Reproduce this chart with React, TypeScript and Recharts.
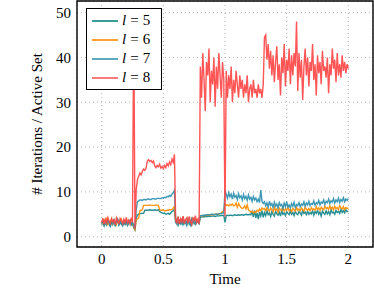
import React from "react";
import { LineChart, Line, XAxis, YAxis, CartesianGrid, ReferenceArea, Legend, Label } from "recharts";

// Sampling interval of the time axis (s): 201 samples from 0 to 2
const T_START = 0;
const T_STEP = 0.01;

const SERIES_NAMES = ["5", "6", "7", "8"];
const X_TICKS = [0, 0.5, 1, 1.5, 2];
const Y_TICKS = [0, 10, 20, 30, 40, 50];

const L5 = [
  2.7, 3.3, 2.4, 3.1, 2.6, 3.5, 2.8, 2.3, 3.2, 2.7, 3.4, 2.5, 3.0, 3.6, 2.6, 3.1, 2.8, 2.4, 3.3, 2.7, 3.2, 2.5, 3.0, 3.4, 2.6, 2.9,
  2.0, 1.5, 4.2, 4.8,
  5.1, 5.1, 5.2, 5.2, 5.2,
  5.9, 5.9, 5.9, 5.9, 6.0, 5.9, 5.9, 5.9, 6.0, 5.9, 5.9, 6.0,
  5.6, 5.4, 5.3, 5.2, 5.3, 5.0, 5.1, 5.2, 5.0,
  5.3, 5.6, 5.8, 6.1,
  3.0, 3.8, 2.6, 3.5, 2.9, 4.0, 2.7, 3.4, 3.1, 2.5, 3.7, 2.8, 3.3, 2.6, 3.9, 3.0, 2.7, 3.6, 3.2, 2.9,
  4.4, 4.4, 4.5, 4.4, 4.5, 4.5, 4.5, 4.6, 4.5, 4.6, 4.6, 4.6, 4.5, 4.6, 4.7, 4.6, 4.7, 4.7, 4.7, 4.8,
  3.2,
  4.7, 4.8, 4.7, 4.8, 4.8, 4.7, 4.8, 4.9, 4.8, 4.8, 4.9, 4.8, 4.9, 4.9, 4.8, 4.9, 5.0, 4.9, 4.9, 5.0, 4.9,
  5.6, 4.4, 5.9, 4.2, 5.3, 3.9, 5.5, 4.6, 5.8, 4.3,
  5.4, 4.7, 5.8, 4.9, 5.3, 4.5, 5.6, 5.0, 4.6, 5.7,
  5.1, 4.8, 5.5, 4.6, 5.9, 5.0, 5.3, 4.7, 5.6, 5.2,
  4.9, 5.8, 5.0, 5.4, 4.7, 5.7, 5.1, 4.9, 5.6, 5.3,
  4.8, 5.9, 5.2, 5.5, 4.9, 5.7, 5.0, 5.4, 5.1, 5.8,
  4.8, 5.6, 5.2, 5.9, 5.0, 5.5, 4.6, 5.7, 5.3, 5.0,
  5.8, 5.1, 5.6, 4.9, 6.0, 5.3, 5.5, 5.0, 5.9, 5.4,
  5.7, 5.2, 6.1, 5.4, 5.8, 5.3, 6.0, 5.6, 5.7,
];

const L6 = [
  3.4, 2.9, 3.7, 3.1, 3.9, 2.8, 3.5, 3.2, 4.0, 2.9, 3.6, 3.3, 2.7, 3.8, 3.0, 3.5, 3.9, 2.8, 3.4, 3.1, 3.7, 2.9, 3.6, 3.2, 3.9, 3.0,
  2.2, 1.6, 3.8, 4.0, 4.1, 5.8, 5.9, 6.0, 7.0,
  7.0, 7.0, 7.0, 7.0, 7.1, 7.0, 7.0, 7.0, 7.0, 7.1, 7.0, 7.0,
  6.0, 5.9, 5.9, 6.0, 5.8, 5.8, 5.9, 5.9, 6.0, 6.0,
  6.1, 6.4, 6.7,
  3.7, 3.0, 4.2, 3.3, 3.9, 2.9, 4.4, 3.2, 3.6, 3.0, 4.1, 3.4, 2.8, 4.0, 3.3, 4.3, 3.1, 3.8, 3.5, 3.2,
  4.6, 4.6, 4.7, 4.7, 4.7, 4.8, 4.8, 4.8, 4.9, 4.9, 4.9, 4.9, 5.0, 5.0, 5.0, 5.1, 5.1, 5.3, 5.6, 5.8,
  7.4, 7.0, 7.1, 6.9, 7.2, 7.0, 7.3, 6.9, 7.0, 7.5,
  6.6, 7.4, 6.9, 6.5, 6.3, 6.4, 6.9, 6.2, 7.1, 6.0,
  5.8, 5.5, 5.7, 5.3, 5.6, 5.4, 5.9, 5.6, 6.2, 5.8,
  6.4, 6.1,
  6.3, 5.8, 6.5, 6.0, 5.7, 6.4, 6.1, 5.6, 6.6, 5.9,
  6.2, 5.5, 6.4, 6.0, 5.8, 6.5, 5.7, 6.2, 5.9, 6.6,
  5.8, 6.1, 5.6, 6.3, 6.0, 5.7, 6.5, 5.9, 6.2, 5.8,
  6.4, 6.0, 5.7, 6.6, 6.1, 5.9, 6.3, 5.8, 6.5, 6.0,
  6.2, 5.9, 6.7, 6.1, 6.4, 5.9, 6.6, 6.2, 6.0, 6.8,
  6.3, 6.5, 6.1, 6.9, 6.2, 6.6, 6.0, 6.8, 6.3, 6.5,
  6.1, 6.9, 6.4, 6.2, 6.7, 6.0, 6.5, 6.3, 6.4,
];

const L7 = [
  3.0, 3.6, 2.6, 3.4, 2.9, 3.8, 3.1, 2.5, 3.5, 3.0, 3.7, 2.7, 3.3, 3.9, 2.8, 3.4, 3.1, 2.6, 3.6, 3.0, 3.5, 2.8, 3.3, 3.7, 2.9, 3.2,
  2.5, 1.8, 6.0, 7.8,
  8.0, 8.2, 8.2, 8.1, 8.3, 8.3, 8.2, 8.4, 8.4, 8.3, 8.3, 8.5, 8.5, 8.4, 8.4, 8.5, 8.6, 8.5,
  8.5, 8.7, 8.6, 8.8, 8.7, 9.0, 8.9, 9.2, 9.0, 9.5, 9.8, 10.3,
  3.5, 2.8, 4.1, 3.2, 3.8, 2.7, 4.3, 3.0, 3.6, 2.9, 4.0, 3.3, 2.6, 3.9, 3.1, 4.2, 2.8, 3.7, 3.4, 3.0,
  4.7, 4.7, 4.8, 4.8, 4.8, 4.9, 4.9, 4.9, 4.9, 5.0, 5.0, 4.9, 5.0, 5.1, 5.0, 5.1, 5.2, 5.1, 5.3, 5.2,
  10.5, 9.4, 8.6, 9.8, 8.9, 9.5, 8.4, 9.7, 8.8, 9.2,
  8.3, 9.6, 8.7, 9.1, 8.2, 9.4, 8.5, 9.0, 8.1, 9.3,
  8.4, 8.8, 7.9, 9.0, 8.2, 8.6, 7.8, 8.4, 7.6, 10.4,
  7.9, 7.4,
  7.8, 6.9, 7.5, 6.6, 7.9, 7.0, 7.4, 6.5, 7.7, 6.8,
  7.3, 6.4, 7.6, 6.9, 7.2, 6.3, 7.5, 6.7, 7.8, 6.6,
  7.1, 6.4, 7.4, 6.8, 7.7, 6.5, 7.2, 6.9, 7.6, 6.7,
  7.3, 7.0, 7.8, 6.8, 7.5, 7.1, 7.9, 6.9, 7.4, 7.2,
  8.0, 7.0, 7.6, 7.3, 8.1, 7.1, 7.7, 7.5, 8.2, 7.2,
  7.9, 7.6, 8.4, 7.4, 8.0, 7.7, 8.5, 7.5, 8.2, 7.8,
  8.6, 7.6, 8.3, 7.9, 8.7, 7.8, 8.4, 8.1, 8.5,
];

const L8 = [
  3.2, 4.1, 2.8, 3.9, 3.1, 4.3, 3.5, 2.9, 4.0, 3.3, 3.8, 2.7, 4.2, 3.4, 3.0, 4.1, 3.6, 2.9, 3.9, 3.2, 4.3, 3.1, 3.7, 2.8, 4.0, 3.5,
  48, 1.8,
  10.5, 12.8, 13.5, 14.2, 13.8, 14.6, 15.1, 14.8, 15.3, 16.9, 17.2, 16.8, 17.0, 16.5, 16.9, 15.8,
  15.4, 15.9, 15.6, 16.2, 15.3, 15.7, 15.2, 15.9, 15.4, 16.3, 15.8, 16.7, 16.1, 17.3, 16.6, 18.4,
  3.6,
  3.1, 4.4, 2.8, 4.0, 3.3, 4.6, 2.9, 3.8, 4.2, 3.0, 4.5, 3.4, 2.7, 4.1, 3.6, 4.7, 3.2, 3.9, 2.8,
  38,
  31, 41, 35, 28, 39, 36, 42, 30, 37, 34, 40, 29, 38, 33, 41, 36, 31, 39, 35,
  4.5,
  37, 31, 36, 33, 38, 30, 35, 32, 37, 34, 31, 36, 33, 35, 31, 34, 32, 36, 30, 33, 34, 31, 35, 32, 33, 31, 34, 32, 33, 31, 34,
  44.5, 45.0, 39.5, 43.0, 37.5, 41.5, 36.0, 40.5, 34.5, 39.0,
  42.5, 35.0, 38.5, 31.5, 40.0, 36.5, 43.0, 33.5, 39.5, 37.0,
  42.0, 34.0, 40.5, 36.0, 41.0, 38.0, 48.0, 32.5, 41.0, 35.5,
  39.5, 30.5, 38.0, 42.0, 36.0, 40.0, 33.5, 39.0, 37.0, 43.0,
  35.0, 38.5, 31.5, 40.5, 36.5, 39.0, 34.0, 41.5, 37.0, 38.0,
  35.5, 40.0, 32.0, 38.5, 36.0, 42.0, 37.5, 39.5, 34.5, 41.0,
  36.0, 38.5, 35.5, 40.5, 37.0, 39.0, 36.5, 38.5, 37.5,
];

const COLORS = ["#15858a", "#ff8c00", "#2b8fae", "#ff4646"];
const LEGEND_COLORS = ["#3a9d98", "#ffa035", "#5eaac0", "#ff7a7a"];

const data = L5.map((v, i) => ({
  t: T_START + i * T_STEP,
  l5: v,
  l6: L6[i],
  l7: L7[i],
  l8: L8[i],
}));

const FONT = "'Liberation Serif', 'Times New Roman', serif";
const tickStyle = { fontFamily: FONT, fontSize: 15, fill: "#000" };

const LegendBox = () => (
  <div
    style={{
      border: "1.3px solid #000",
      background: "#fff",
      width: 74,
      height: 80,
      boxSizing: "content-box",
      padding: 0,
      fontFamily: FONT,
      fontSize: 15,
    }}
  >
    <div style={{ paddingTop: 2, paddingLeft: 5 }}>
      {SERIES_NAMES.map((n, i) => (
        <div key={n} style={{ height: 19, display: "flex", alignItems: "center" }}>
          <div style={{ width: 26, height: 2, background: LEGEND_COLORS[i] }} />
          <span style={{ marginLeft: 4, whiteSpace: "nowrap", color: "#000" }}>
            <i>l</i>
            <span style={{ margin: "0 4px" }}>=</span>
            {n}
          </span>
        </div>
      ))}
    </div>
  </div>
);

const YLabel = (props: any) => {
  const vb = props.viewBox || { x: 0, y: 1, width: 77, height: 246 };
  const cx = vb.x + 42;
  const cy = vb.y + vb.height / 2;
  return (
    <text
      x={cx}
      y={cy}
      transform={`rotate(-90 ${cx} ${cy})`}
      textAnchor="middle"
      style={{ fontFamily: FONT, fontSize: 15, fill: "#000" }}
    >
      # Iterations / Active Set
    </text>
  );
};

export default function App() {
  return (
    <div style={{ position: "absolute", left: 0, top: 0, width: 374, height: 289, background: "#fff" }}>
      <LineChart width={374} height={289} data={data} margin={{ top: 1, right: 1, left: 0, bottom: 0 }}>
        <CartesianGrid stroke="#b5b5b5" strokeDasharray="1 3" />
        <XAxis
          dataKey="t"
          type="number"
          domain={[-0.2, 2.2]}
          ticks={X_TICKS}
          tickFormatter={(v: number) => String(v)}
          height={42}
          tick={tickStyle}
          tickLine={false}
          tickSize={4}
          tickMargin={2}
          axisLine={false}
          allowDataOverflow
        >
          <Label value="Time" position="insideBottom" offset={5} style={{ fontFamily: FONT, fontSize: 15, fill: "#000" }} />
        </XAxis>
        <YAxis
          type="number"
          domain={[-2.3, 52.6]}
          ticks={Y_TICKS}
          width={77}
          tick={tickStyle}
          tickLine={false}
          tickSize={4}
          tickMargin={2}
          axisLine={false}
          allowDataOverflow
        >
          <Label content={YLabel} />
        </YAxis>
        <Legend
          layout="vertical"
          align="center"
          verticalAlign="middle"
          content={() => <LegendBox />}
          wrapperStyle={{ left: 86, top: 8, width: "auto", height: "auto" }}
        />
        {["l5", "l6", "l7", "l8"].map((k, i) => (
          <Line
            key={k}
            dataKey={k}
            type="linear"
            stroke={COLORS[i]}
            strokeWidth={1.4}
            strokeOpacity={0.92}
            dot={false}
            activeDot={false}
            isAnimationActive={false}
          />
        ))}
        <ReferenceArea x1={-0.2} x2={2.2} y1={-2.3} y2={52.6} fill="none" stroke="#000" strokeWidth={1.4} ifOverflow="visible" />
      </LineChart>
    </div>
  );
}
